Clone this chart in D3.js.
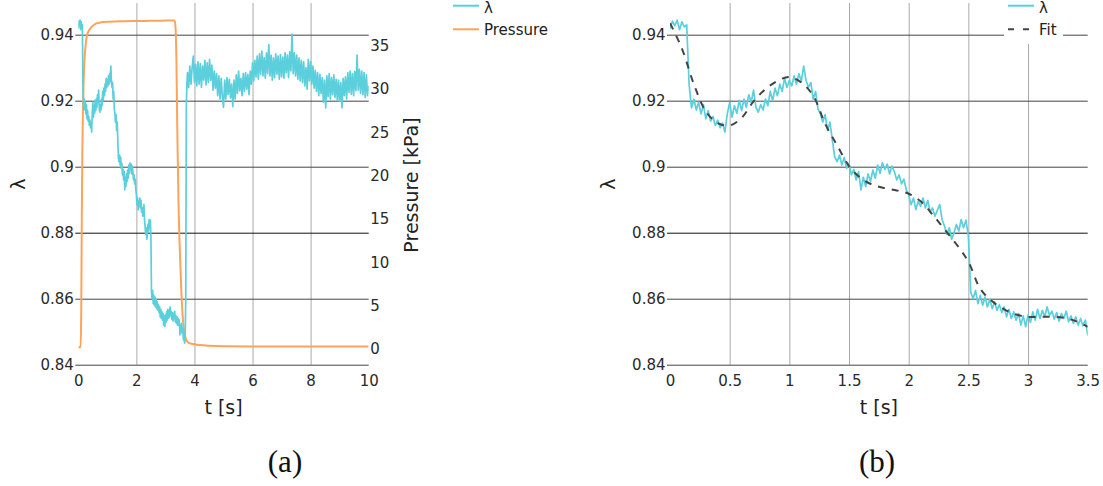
<!DOCTYPE html>
<html><head><meta charset="utf-8">
<script src="https://cdn.jsdelivr.net/npm/d3@7"></script>
<style>
html,body{margin:0;padding:0;background:#fff;}
svg{display:block;font-family:"DejaVu Sans",Verdana,sans-serif;}
</style></head>
<body>
<svg id="c" width="1103" height="486"></svg>
<script>
// λ samples, t = 0 .. 3.74 s, step 0.02 s
const lambdaStep1 = 0.02;
const lambda1 = [
.9418,.9441,.9427,.9444,.9415,.9439,.9424,.9430,.9250,.9178,
.9205,.9172,.9195,.9160,.9188,.9145,.9170,.9138,.9152,.9125,
.9141,.9118,.9132,.9105,.9160,.9195,.9150,.9185,.9162,.9201,
.9170,.9205,.9180,.9218,.9195,.9232,.9180,.9165,.9188,.9172,
.9205,.9185,.9228,.9200,.9238,.9215,.9250,.9228,.9268,.9240,
.9262,.9245,.9275,.9250,.9282,.9258,.9305,.9262,.9240,.9255,
.9205,.9228,.9175,.9160,.9135,.9158,.9110,.9135,.9082,.9030,
.9015,.9035,.9005,.9028,.8995,.9010,.8975,.8992,.8960,.8985,
.8930,.8968,.8940,.8978,.8955,.8990,.8965,.9005,.8980,.9012,
.8992,.9008,.8978,.9002,.8985,.8960,.8975,.8948,.8962,.8930,
.8915,.8885,.8905,.8870,.8895,.8880,.8905,.8875,.8898,.8862,
.8875,.8850,.8868,.8885,.8840,.8820,.8795,.8815,.8780,.8800,
.8825,.8805,.8840,.8815,.8838,.8790,.8620,.8600,.8625,.8585,
.8610,.8580,.8605,.8575,.8598,.8570,.8590,.8565,.8582,.8558,
.8575,.8545,.8568,.8540,.8560,.8535,.8555,.8520,.8548,.8515,
.8550,.8528,.8560,.8535,.8568,.8540,.8565,.8545,.8575,.8550,
.8562,.8538,.8558,.8532,.8555,.8540,.8562,.8530,.8548,.8525,
.8545,.8520,.8540,.8518,.8535,.8490,.8520,.8500,.8525,.8495,
.8510,.8475,.8495,.8465,.8480,.8600,.9180,.9250
];
// λ samples, t = 3.76 .. 10 s, step 0.04 s
const lambdaStart2 = 3.76, lambdaStep2 = 0.04;
const lambda2 = [
.9285,.9240,.9305,.9250,.9300,.9335,.9255,.9310,.9245,.9318,
.9250,.9312,.9240,.9305,.9262,.9322,.9248,.9315,.9255,.9325,
.9262,.9308,.9232,.9290,.9238,.9282,.9215,.9275,.9205,.9268,
.9212,.9180,.9262,.9205,.9270,.9218,.9265,.9208,.9250,.9182,
.9262,.9205,.9278,.9222,.9290,.9230,.9268,.9215,.9282,.9228,
.9285,.9235,.9280,.9218,.9290,.9250,.9315,.9260,.9322,.9272,
.9335,.9265,.9342,.9280,.9350,.9275,.9330,.9268,.9345,.9282,
.9370,.9275,.9338,.9262,.9330,.9270,.9342,.9280,.9335,.9265,
.9340,.9272,.9332,.9268,.9345,.9285,.9338,.9270,.9348,.9290,
.9402,.9282,.9345,.9275,.9338,.9265,.9330,.9260,.9322,.9255,
.9318,.9245,.9300,.9235,.9325,.9260,.9318,.9250,.9305,.9238,
.9292,.9228,.9285,.9215,.9280,.9222,.9270,.9195,.9262,.9178,
.9275,.9212,.9282,.9205,.9270,.9218,.9278,.9210,.9265,.9200,
.9262,.9198,.9255,.9178,.9268,.9215,.9272,.9205,.9285,.9225,
.9290,.9220,.9282,.9215,.9288,.9230,.9338,.9232,.9295,.9222,
.9290,.9218,.9285,.9210,.9278,.9215,.9245
];
// Pressure [kPa]
const pressureT = [0,0.08,0.10,0.12,0.14,0.16,0.18,0.20,0.25,0.30,0.40,0.50,0.63,0.80,1.09,1.5,2.0,2.5,3.0,3.32,3.35,3.38,3.41,3.45,3.50,3.55,3.60,3.65,3.70,3.75,3.85,4.0,4.5,5.0,6.0,7.0,8.0,9.0,10.0];
const pressureV = [0.2,0.2,4,15,23,27.5,30.5,32.5,35,36.2,36.9,37.3,37.56,37.68,37.75,37.8,37.83,37.85,37.88,37.9,37,33,25,17,11,6.5,3.5,2.0,1.2,0.85,0.65,0.55,0.38,0.32,0.3,0.3,0.3,0.3,0.3];
// Fit curve
const fitT = [0,0.1,0.2,0.3,0.4,0.5,0.6,0.7,0.8,0.9,1.0,1.1,1.2,1.3,1.4,1.5,1.6,1.7,1.8,1.9,2.0,2.1,2.2,2.3,2.4,2.5,2.6,2.7,2.8,2.9,3.0,3.1,3.2,3.3,3.4,3.5];
const fitV = [.9435,.9358,.9250,.9168,.9132,.9125,.9148,.9198,.9235,.9260,.9272,.9255,.9215,.9130,.9065,.9002,.8965,.8945,.8935,.8928,.8918,.8895,.8855,.8810,.8765,.8712,.8630,.8592,.8568,.8552,.8545,.8545,.8545,.8542,.8532,.8515];
// ticks
const lambdaTicks = [0.84,0.86,0.88,0.9,0.92,0.94];
const pressureTicks = [0,5,10,15,20,25,30,35];
const xTicksA = [0,2,4,6,8,10];
const xTicksB = [0,0.5,1,1.5,2,2.5,3,3.5];

const lambdaPts = lambda1.map((v,i)=>({t:i*lambdaStep1, v}))
  .concat(lambda2.map((v,i)=>({t:lambdaStart2+i*lambdaStep2, v})));
const pressurePts = pressureT.map((t,i)=>({t, v:pressureV[i]}));
const fitPts = fitT.map((t,i)=>({t, v:fitV[i]}));

const CYAN="#5BCFDC", ORANGE="#FFA35A", FITC="#444";
const svg = d3.select("#c");
const yTop=3, yBot=364.7;
const fmt = d=>String(+d.toFixed(2));

function panel(id, x0, x1, xDom, xTicks, data, showP){
  const g = svg.append("g");
  const x = d3.scaleLinear().domain(xDom).range([x0,x1]);
  const y = d3.scaleLinear().domain([0.84,0.9496]).range([yBot,yTop]);
  g.append("clipPath").attr("id","clip"+id).append("rect")
    .attr("x",x0).attr("y",yTop).attr("width",x1-x0).attr("height",yBot-yTop);
  // vertical grid + x labels
  const xa = g.append("g").attr("transform",`translate(0,${yBot})`)
    .call(d3.axisBottom(x).tickValues(xTicks).tickSize(-(yBot-yTop)).tickPadding(11).tickFormat(fmt));
  xa.select(".domain").remove();
  xa.selectAll(".tick line").attr("stroke","#aaa").attr("stroke-width",1)
    .attr("display",d=>(d===xDom[0]||d===xDom[1])?"none":null);
  xa.selectAll(".tick text").attr("fill","#2a2a2a").style("font-size","15px").style("font-family","DejaVu Sans");
  // horizontal grid + y labels
  const ya = g.append("g").attr("transform",`translate(${x0-3},0)`)
    .call(d3.axisLeft(y).tickValues(lambdaTicks).tickSize(-(x1-x0+3)).tickPadding(1.5).tickFormat(fmt));
  ya.select(".domain").remove();
  ya.selectAll(".tick line").attr("stroke",d=>d===0.88?"#111":"#444").attr("stroke-width",1);
  ya.selectAll(".tick text").attr("fill","#2a2a2a").style("font-size","15px").style("font-family","DejaVu Sans");
  const plot = g.append("g").attr("clip-path",`url(#clip${id})`);
  if(showP){
    const p = d3.scaleLinear().domain([-1.81,39.91]).range([yBot,yTop]);
    const pa = g.append("g").attr("transform",`translate(${x1},0)`)
      .call(d3.axisRight(p).tickValues(pressureTicks).tickSize(0).tickPadding(1.5));
    pa.select(".domain").remove();
    pa.selectAll(".tick text").attr("fill","#2a2a2a").style("font-size","15px").style("font-family","DejaVu Sans");
    plot.append("path").datum(pressurePts)
      .attr("d",d3.line().x(d=>x(d.t)).y(d=>p(d.v)).curve(d3.curveMonotoneX))
      .attr("fill","none").attr("stroke",ORANGE).attr("stroke-width",2);
  }
  plot.append("path").datum(data.filter(d=>d.t<=xDom[1]+0.05))
    .attr("d",d3.line().x(d=>x(d.t)).y(d=>y(d.v)))
    .attr("fill","none").attr("stroke",CYAN).attr("stroke-width",1.7).attr("stroke-linejoin","round");
  if(!showP){
    plot.append("path").datum(fitPts)
      .attr("d",d3.line().x(d=>x(d.t)).y(d=>y(d.v)).curve(d3.curveCatmullRom))
      .attr("fill","none").attr("stroke",FITC).attr("stroke-width",2).attr("stroke-dasharray","7,7");
  }
  // axis titles
  g.append("text").attr("x",(x0+x1)/2).attr("y",414).attr("text-anchor","middle")
    .style("font-size","19px").attr("fill","#222").text("t [s]");
  return {x,y};
}

panel("a",78.3,368.7,[0,10],xTicksA,lambdaPts,true);
panel("b",670,1087.7,[0,3.5],xTicksB,lambdaPts,false);

// y titles
svg.append("text").attr("transform","translate(25,184) rotate(-90)").attr("text-anchor","middle")
  .style("font-size","19px").attr("fill","#222").text("λ");
svg.append("text").attr("transform","translate(615,184) rotate(-90)").attr("text-anchor","middle")
  .style("font-size","19px").attr("fill","#222").text("λ");
svg.append("text").attr("transform","translate(417.5,185) rotate(-90)").attr("text-anchor","middle")
  .style("font-size","19px").attr("fill","#222").text("Pressure [kPa]");

// legends
function legend(lx, items, bg){
  const g = svg.append("g");
  if(bg) g.append("rect").attr("x",lx-4).attr("y",0).attr("width",59).attr("height",44).attr("fill","#fff");
  items.forEach((it,i)=>{
    const ly = i===0?5.7:29.3;
    g.append("line").attr("x1",lx).attr("x2",lx+26).attr("y1",ly).attr("y2",ly)
      .attr("stroke",it.c).attr("stroke-width",2).attr("stroke-dasharray",it.dash||null);
    g.append("text").attr("x",lx+31).attr("y",i===0?12.5:35.3).style("font-size","15px")
      .attr("fill","#222").text(it.name);
  });
}
legend(453,[{name:"λ",c:CYAN},{name:"Pressure",c:ORANGE}],false);
legend(1008,[{name:"λ",c:CYAN},{name:"Fit",c:FITC,dash:"6,9"}],true);

// captions
svg.append("text").attr("x",285).attr("y",472).attr("text-anchor","middle")
  .style("font-family","Liberation Serif, serif").style("font-size","31px").attr("fill","#111").text("(a)");
svg.append("text").attr("x",877).attr("y",472).attr("text-anchor","middle")
  .style("font-family","Liberation Serif, serif").style("font-size","31px").attr("fill","#111").text("(b)");
</script>
</body></html>
